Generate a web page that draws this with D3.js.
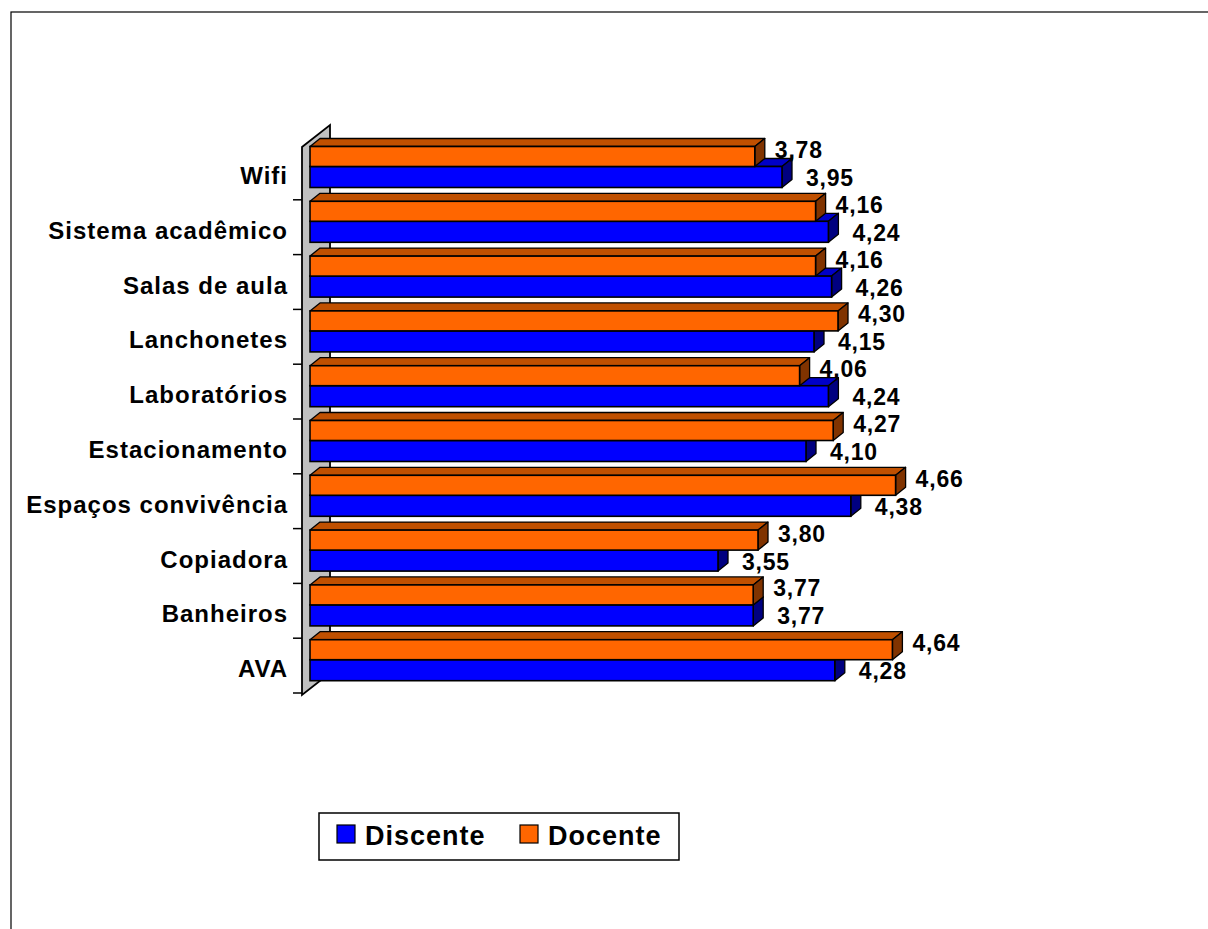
<!DOCTYPE html>
<html><head><meta charset="utf-8">
<script src="https://cdn.jsdelivr.net/npm/d3@7"></script>
<style>
html,body{margin:0;padding:0;background:#fff;}
svg text{font-family:Arial,"Liberation Sans",sans-serif;font-weight:bold;fill:#000;}
</style></head>
<body>
<svg id="chart" width="1208" height="929"></svg>
<script>
const categories = ["Wifi","Sistema acadêmico","Salas de aula","Lanchonetes","Laboratórios","Estacionamento","Espaços convivência","Copiadora","Banheiros","AVA"];
const discente = [3.95,4.24,4.26,4.15,4.24,4.10,4.38,3.55,3.77,4.28];
const docente  = [3.78,4.16,4.16,4.30,4.06,4.27,4.66,3.80,3.77,4.64];
const seriesNames = ["Discente","Docente"];
const xDomain = [1,5];

const svg = d3.select("#chart");
// outer frame
svg.append("rect").attr("x",11).attr("y",12).attr("width",1210).attr("height",940)
  .attr("fill","none").attr("stroke","#000").attr("stroke-width",1.2);

const x = d3.scaleLinear().domain(xDomain).range([310,950]);
const y = d3.scaleBand().domain(categories).range([145,693]).padding(0);
const DX = 10, DY = -8;          // bar depth projection
const WDX = 28, WDY = -22;       // wall depth projection
const wallFront = 302;

// wall
const yTop = y.range()[0]+2, yBot = y.range()[1]+2;
svg.append("path")
  .attr("d",`M${wallFront},${yTop} L${wallFront+WDX},${yTop+WDY} L${wallFront+WDX},${yBot+WDY} L${wallFront},${yBot} Z`)
  .attr("fill","#c0c0c0").attr("stroke","#000").attr("stroke-width",1.8);

// category ticks
const tickYs = categories.map(c=>y(c)).concat([y.range()[1]]).slice(1);
svg.selectAll("line.tick").data(tickYs).enter().append("line")
  .attr("x1",wallFront-9).attr("x2",wallFront).attr("y1",d=>d).attr("y2",d=>d)
  .attr("stroke","#000").attr("stroke-width",1.5);

// category labels
svg.selectAll("text.cat").data(categories).enter().append("text")
  .attr("x",288).attr("y",d=>y(d)+39).attr("text-anchor","end")
  .style("font-size","24px").style("letter-spacing","1px").text(d=>d);

const series = [
  {name:"Discente", vals:discente, front:"#0000ff", top:"#0000c8", side:"#000080", off:21.5, h:21},
  {name:"Docente",  vals:docente,  front:"#ff6600", top:"#c05000", side:"#803300", off:1.5,  h:20}
];

function bar(g, x0, x1, y0, h, s){
  const pts = (a)=>a.map(p=>p.join(",")).join(" ");
  g.append("polygon").attr("points",pts([[x0,y0],[x0+DX,y0+DY],[x1+DX,y0+DY],[x1,y0]]))
    .attr("fill",s.top).attr("stroke","#000").attr("stroke-width",1.3).attr("stroke-linejoin","round");
  g.append("polygon").attr("points",pts([[x1,y0],[x1+DX,y0+DY],[x1+DX,y0+h+DY],[x1,y0+h]]))
    .attr("fill",s.side).attr("stroke","#000").attr("stroke-width",1.3).attr("stroke-linejoin","round");
  g.append("rect").attr("x",x0).attr("y",y0).attr("width",x1-x0).attr("height",h)
    .attr("fill",s.front).attr("stroke","#000").attr("stroke-width",1.6);
}

const barsG = svg.append("g");
categories.forEach((c,i)=>{
  const g = barsG.append("g");
  series.forEach(s=>{
    bar(g, x(xDomain[0]), x(s.vals[i]), y(c)+s.off, s.h, s);
  });
});

// value labels
const fmt = v=>d3.format(".2f")(v).replace(".",",");
const labelsG = svg.append("g");
categories.forEach((c,i)=>{
  labelsG.append("text").attr("x",x(docente[i])+20).attr("y",y(c)+13)
    .style("font-size","23px").style("letter-spacing","0.8px").text(fmt(docente[i]));
  labelsG.append("text").attr("x",x(discente[i])+24).attr("y",y(c)+41)
    .style("font-size","23px").style("letter-spacing","0.8px").text(fmt(discente[i]));
});

// legend
const lg = svg.append("g");
lg.append("rect").attr("x",319).attr("y",813).attr("width",360).attr("height",47)
  .attr("fill","#fff").attr("stroke","#000").attr("stroke-width",1.5);
const legX = [337,520];
seriesNames.forEach((n,k)=>{
  const s = series.find(d=>d.name===n);
  lg.append("rect").attr("x",legX[k]).attr("y",825).attr("width",18).attr("height",18)
    .attr("fill",s.front).attr("stroke","#000").attr("stroke-width",1.2);
  lg.append("text").attr("x",legX[k]+28).attr("y",845)
    .style("font-size","27px").style("letter-spacing","1px").text(n);
});
</script>
</body></html>
